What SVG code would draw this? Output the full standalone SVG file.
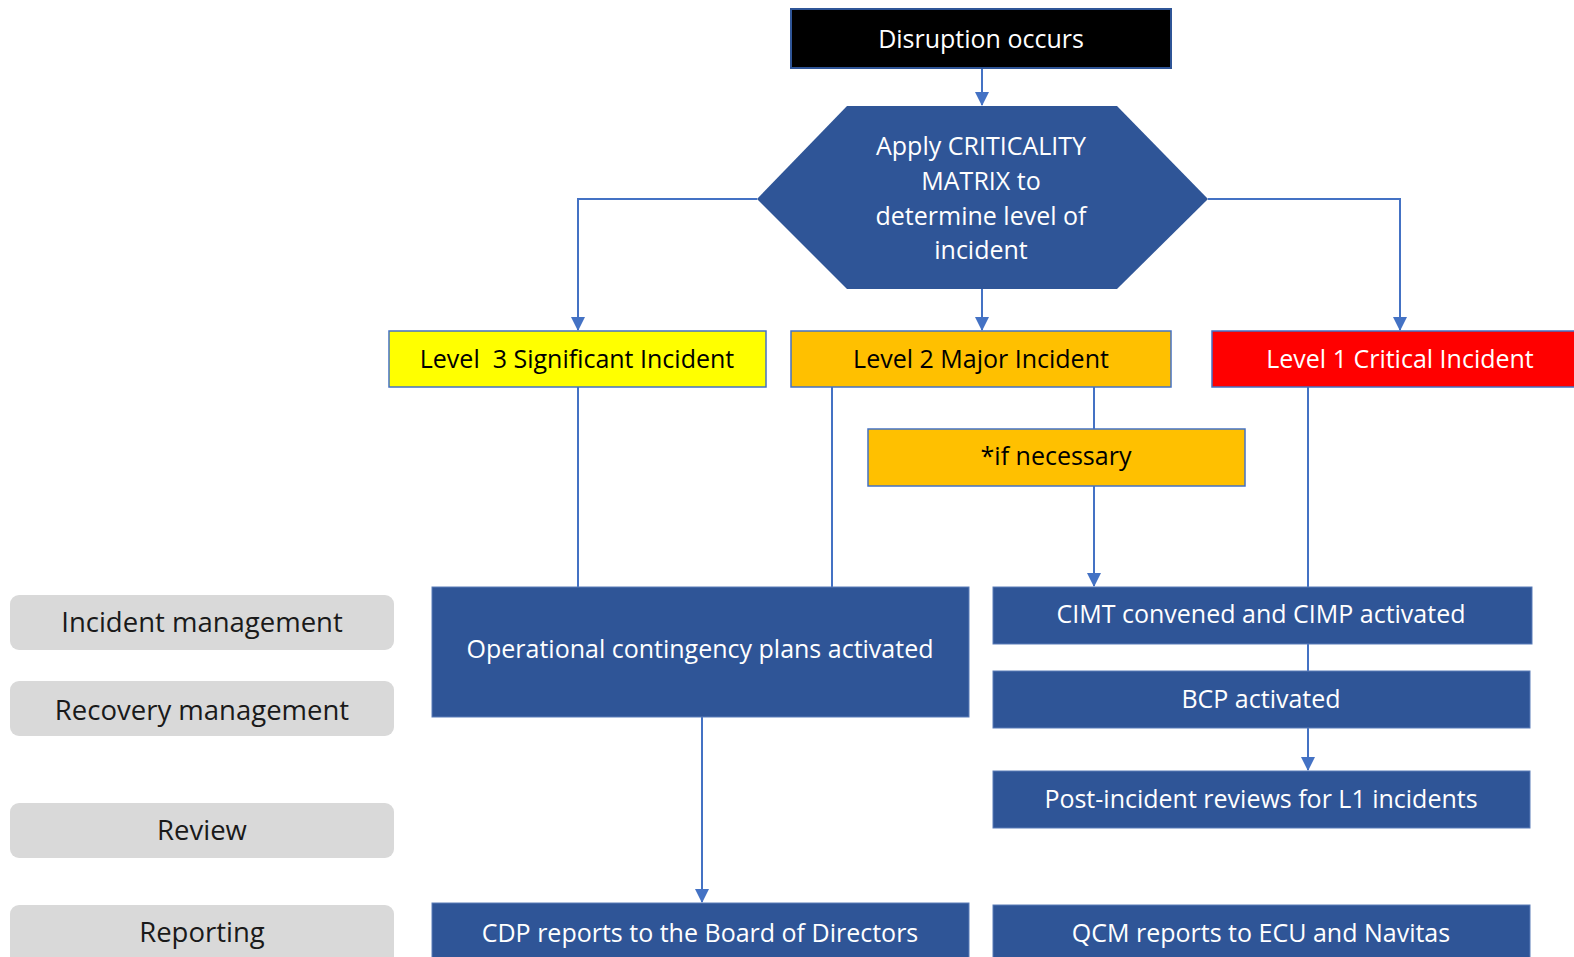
<svg xmlns="http://www.w3.org/2000/svg" width="1574" height="957" viewBox="0 0 1574 957">
<defs>
<marker id="arr" markerUnits="userSpaceOnUse" markerWidth="14" markerHeight="14" viewBox="0 0 14 14" refX="13" refY="7" orient="auto">
<path d="M0,0 L14,7 L0,14 Z" fill="#4472C4"/>
</marker>
<style>
.t{font-family:"Open Sans","Noto Sans","Liberation Sans",sans-serif;font-size:25px;text-anchor:middle;}
.w{fill:#ffffff;}
.k{fill:#000000;}
.g{font-size:27.5px;fill:#1a1a1a;}
.blue{fill:#2F5597;stroke:#5B7DB8;stroke-width:1;}
.lvl{stroke:#4472C4;stroke-width:1.5;}
.side{fill:#D9D9D9;}
.c{fill:none;stroke:#4472C4;stroke-width:2;}
</style>
</defs>
<rect width="1574" height="957" fill="#ffffff"/>

<g id="connectors">
<path class="c" d="M982,68 V105" marker-end="url(#arr)"/>
<path class="c" d="M757,199 H578 V330" marker-end="url(#arr)"/>
<path class="c" d="M982,289 V330" marker-end="url(#arr)"/>
<path class="c" d="M1208,199 H1400 V330" marker-end="url(#arr)"/>
<path class="c" d="M578,387 V587"/>
<path class="c" d="M832,387 V587"/>
<path class="c" d="M1094,387 V429"/>
<path class="c" d="M1094,486 V586" marker-end="url(#arr)"/>
<path class="c" d="M1308,387 V587"/>
<path class="c" d="M1308,644 V671"/>
<path class="c" d="M1308,728 V770" marker-end="url(#arr)"/>
<path class="c" d="M702,717 V902" marker-end="url(#arr)"/>
</g>

<g id="disruption">
<rect x="791" y="9" width="380" height="59" fill="#000000" stroke="#2F5597" stroke-width="2"/>
<text class="t w" x="981" y="48">Disruption occurs</text>
</g>

<g id="matrix">
<polygon points="847,106 1117,106 1208,199 1117,289 847,289 757,199" fill="#2F5597"/>
<text class="t w" x="981" y="155">Apply CRITICALITY</text>
<text class="t w" x="981" y="190">MATRIX to</text>
<text class="t w" x="981" y="225">determine level of</text>
<text class="t w" x="981" y="259">incident</text>
</g>

<g id="level3">
<rect class="lvl" x="389" y="331" width="377" height="56" fill="#FFFF00"/>
<text class="t k" x="577" y="368" xml:space="preserve">Level  3 Significant Incident</text>
</g>

<g id="level2">
<rect class="lvl" x="791" y="331" width="380" height="56" fill="#FFC000"/>
<text class="t k" x="981" y="368">Level 2 Major Incident</text>
</g>

<g id="level1">
<rect class="lvl" x="1212" y="331" width="380" height="56" fill="#FF0000"/>
<text class="t w" x="1400" y="368">Level 1 Critical Incident</text>
</g>

<g id="ifnecessary">
<rect class="lvl" x="868" y="429" width="377" height="57" fill="#FFC000"/>
<text class="t k" x="1056" y="465">*if necessary</text>
</g>

<g id="operational">
<rect class="blue" x="432" y="587" width="537" height="130"/>
<text class="t w" x="700" y="658">Operational contingency plans activated</text>
</g>

<g id="cdp">
<rect class="blue" x="432" y="903" width="537" height="70"/>
<text class="t w" x="700" y="942">CDP reports to the Board of Directors</text>
</g>

<g id="cimt">
<rect class="blue" x="993" y="587" width="539" height="57"/>
<text class="t w" x="1261" y="623">CIMT convened and CIMP activated</text>
</g>

<g id="bcp">
<rect class="blue" x="993" y="671" width="537" height="57"/>
<text class="t w" x="1261" y="708">BCP activated</text>
</g>

<g id="postincident">
<rect class="blue" x="993" y="771" width="537" height="57"/>
<text class="t w" x="1261" y="808">Post-incident reviews for L1 incidents</text>
</g>

<g id="qcm">
<rect class="blue" x="993" y="905" width="537" height="70"/>
<text class="t w" x="1261" y="942">QCM reports to ECU and Navitas</text>
</g>

<g id="incident-management">
<rect class="side" x="10" y="595" width="384" height="55" rx="9"/>
<text class="t g" x="202" y="632">Incident management</text>
</g>

<g id="recovery-management">
<rect class="side" x="10" y="681" width="384" height="55" rx="9"/>
<text class="t g" x="202" y="720">Recovery management</text>
</g>

<g id="review">
<rect class="side" x="10" y="803" width="384" height="55" rx="9"/>
<text class="t g" x="202" y="840">Review</text>
</g>

<g id="reporting">
<rect class="side" x="10" y="905" width="384" height="70" rx="9"/>
<text class="t g" x="202" y="942">Reporting</text>
</g>
</svg>
